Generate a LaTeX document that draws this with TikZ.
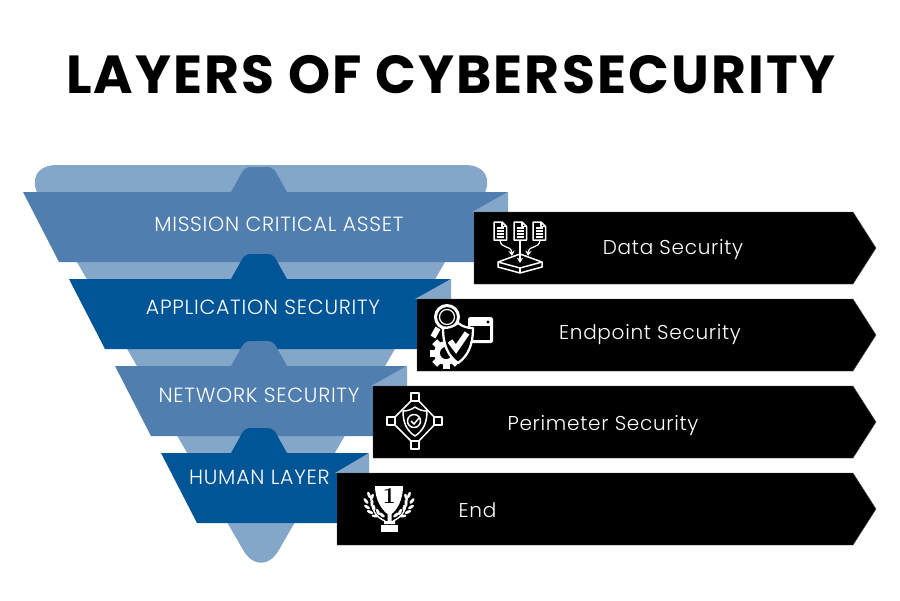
\documentclass[tikz,border=0pt]{standalone}
\usepackage{fontspec}
\setmainfont{Poppins}
\newfontfamily\titlefont[LetterSpace=4]{Poppins}
\newfontfamily\labelfont[LetterSpace=3.5]{Poppins Light}
\usetikzlibrary{arrows.meta}
\definecolor{lightblue}{HTML}{84A7C9}
\definecolor{midblue}{HTML}{507EAE}
\definecolor{deepblue}{HTML}{005596}
\tikzset{
	bandlabel/.style={text=white, font=\labelfont\fontsize{11.7}{12}\selectfont},
	boxlabel/.style={text=white, font=\labelfont\fontsize{11.4}{12}\selectfont},
	iconline/.style={draw=white, line width=.85pt, line join=round},
	iconthin/.style={draw=white, line width=.7pt, line join=round},
}

\begin{document}
\begin{tikzpicture}[x=.02cm, y=-.02cm, >=stealth]
	\fill[white] (0,0) rectangle (900,600);
	
	% Titel
	\node[font=\titlefont\bfseries\fontsize{30.5}{34}\selectfont, text=black] (title) at (451,74.5) {LAYERS OF CYBERSECURITY};
	
	% Trichter
	\fill[lightblue, rounded corners=.72cm] (21,165) -- (501,165) -- (261,581) -- cycle;
	
	% Stufen
	\foreach \xa/\xb/\xc/\xd/\y/\c in {23/508/474/59/192/midblue,69/451/417/105/279/deepblue,115/407/373/151/366/midblue,161/369/337/197/453/deepblue}{
		\fill[\c] (231,\y) [rounded corners=3pt] -- (245,\y-25) -- (273,\y-25) [sharp corners] -- (287,\y) -- cycle;
		\fill[\c] (\xa,\y) -- (\xb,\y) -- (\xc,\y+20) -- (\xc,\y+70) -- (\xd,\y+70) -- cycle;
		\fill[lightblue] (\xb,\y) -- (\xc-2,\y+20) -- (\xb,\y+20) -- cycle;
	}
	
	% Pfeilboxen
	\foreach \xa/\ya in {474/212,417/299,373/386,337/473}
	\filldraw[fill=black, draw=black!70, line width=.25pt] (\xa,\ya) -- (853,\ya) -- (876,\ya+36) -- (853,\ya+72) -- (\xa,\ya+72) -- cycle;
	
	% Dokumente
	\foreach \x in {494,514,533}{
		\draw[iconline] (\x,222) -- (\x+8,222) -- (\x+12.5,226.5) -- (\x+12.5,240) -- (\x,240) -- cycle;
		\draw[iconthin] (\x+8,222) -- (\x+8,226.5) -- (\x+12.5,226.5);
		\foreach \y in {228,231,234,237}
		\draw[iconthin] (\x+2.5,\y) -- (\x+10,\y);
	}
	\draw[iconline] (498,262) -- (520,254) -- (542,262) -- (520,268) -- cycle;
	\draw[iconline] (498,262) -- (498,267) -- (520,273) -- (542,267) -- (542,262);
	\draw[iconline] (520,268) -- (520,273);
	\draw[iconthin, -{Stealth[length=3pt,width=3.5pt]}] (520,240) -- (520,263);
	\draw[iconthin, -{Stealth[length=3pt,width=3.5pt]}] (500,240) .. controls (501,250) and (511,244) .. (512,256);
	\draw[iconthin, -{Stealth[length=3pt,width=3.5pt]}] (540,240) .. controls (539,250) and (529,244) .. (528,256);
	
	% Fenster, Lupe, Zahnrad, Schild
	\fill[white, rounded corners=1pt] (468,317) rectangle (493,343);
	\fill[black] (488,322) circle (1.6);
	\fill[black] (470,326) rectangle (490,340);
	\draw[white, line width=1.7pt] (447,317) circle (11.5);
	\draw[white, line width=.7pt] (447,317) circle (7.5);
	\draw[white, line width=3.2pt] (438,328) -- (433,337);
	\fill[white] (446,353) circle (12);
	\foreach \a in {0,45,...,315}
	\fill[white, rotate around={\a:(446,353)}] (442.5,337) rectangle (449.5,344);
	\fill[black] (446,353) circle (6);
	\draw[white, fill=black, line width=1.3pt, line join=round] (458,323) .. controls (463,327) and (468,328) .. (473,328) .. controls (473,345) and (468,356) .. (458,363) .. controls (448,356) and (443,345) .. (443,328) .. controls (448,328) and (453,327) .. (458,323) -- cycle;
	\draw[white, line width=3.2pt] (450,341) -- (456,349) -- (467,333);
	
	% Netzwerk
	\draw[iconline] (415,397) -- (391,421) -- (415,445) -- (438,421) -- cycle;
	\foreach \x/\y in {415/397,391/421,438/421,415/445}
	\draw[iconline, fill=black] (\x-4,\y-4) rectangle (\x+4,\y+4);
	\draw[iconline] (415,407) .. controls (419,410) and (423,411) .. (427,411) .. controls (427,423) and (423,431) .. (415,436) .. controls (407,431) and (403,423) .. (403,411) .. controls (407,411) and (411,410) .. (415,407) -- cycle;
	\draw[iconline] (414,421) circle (6.5);
	\draw[iconline] (411,421) -- (414,424) -- (419,418);
	
	% Pokal
	\fill[white] (375,486) -- (403,486) .. controls (403,500) and (397,510) .. (391.5,514) -- (391.5,521) -- (395,521) -- (395,524) -- (384,524) -- (384,521) -- (387.5,521) -- (387.5,514) .. controls (382,510) and (375,500) .. (375,486) -- cycle;
	\fill[white] (381,525) rectangle (398,532);
	\foreach \a/\b/\r in {369/495/-70,366/501/-50,367/507/-35,370/512/-25,375/516/-10,372/497/-110,372/503/-100,374/508/-80,378/512/-65,382/515/-40}{
		\fill[white, rotate around={\r:(\a,\b)}] (\a,\b) ellipse (3.4 and 1.5);
		\fill[white, rotate around={-\r:(778-\a,\b)}] (778-\a,\b) ellipse (3.4 and 1.5);
	}
	\draw[white, line width=.8pt] (371,497) .. controls (371,510) and (376,517) .. (385,521);
	\draw[white, line width=.8pt] (407,497) .. controls (407,510) and (402,517) .. (393,521);
	\node[text=black, inner sep=0pt, font=\rmfamily\bfseries\fontsize{13}{13}\selectfont] (one) at (389.3,496) {\fontspec{Latin Modern Roman}1};
	
	% Beschriftungen
	\node[bandlabel] (mission) at (279,224) {MISSION CRITICAL ASSET};
	\node[bandlabel] (application) at (263,307) {APPLICATION SECURITY};
	\node[bandlabel] (network) at (259,395) {NETWORK SECURITY};
	\node[bandlabel] (human) at (259.5,477) {HUMAN LAYER};
	\node[boxlabel] (data) at (673,249.5) {Data Security};
	\node[boxlabel] (endpoint) at (650,334.5) {Endpoint Security};
	\node[boxlabel] (perimeter) at (603,425.5) {Perimeter Security};
	\node[boxlabel] (end) at (477.5,510) {End};
\end{tikzpicture}
\end{document}
